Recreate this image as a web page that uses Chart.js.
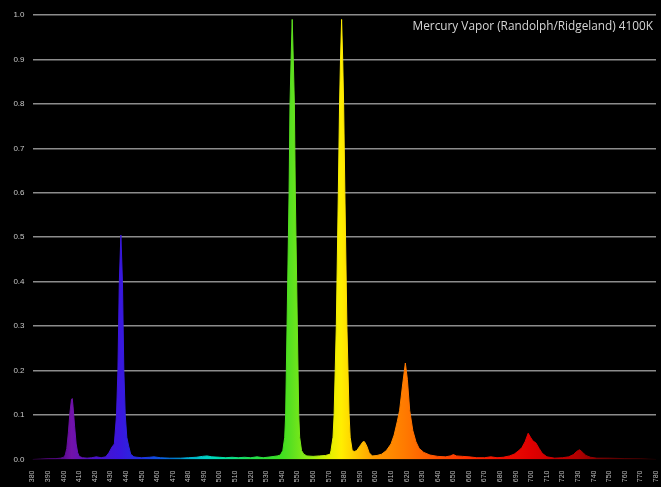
<!DOCTYPE html>
<html>
<head>
<meta charset="utf-8">
<script src="https://cdn.jsdelivr.net/npm/chart.js@4.4.0/dist/chart.umd.min.js"></script>
<style>
  html, body { margin: 0; padding: 0; background: #000; }
  #wrap { position: relative; width: 661px; height: 487px; background: #000; }
  #title { position: absolute; right: 8px; top: 17px; color: #d6d6d6;
           font-family: "Open Sans", "Liberation Sans", sans-serif; font-size: 11.8px; white-space: nowrap; }
</style>
</head>
<body>
<div id="wrap">
  <canvas id="c" width="661" height="487"></canvas>
  <div id="title">Mercury Vapor (Randolph/Ridgeland) 4100K</div>
</div>
<script>
// Wavelength (nm) samples
const wavelengths = [
  380,385,390,395,398,400,401,402,403,404,405,405.5,406,407,408,409,410,412,415,418,421,424,427,429,431,432.5,433.9,434.8,435.7,436.7,437.7,438.6,439.5,440.5,441.7,443,445,447,450,455,458,462,468,475,480,485,489,492,495,500,504,508,512,516,520,524,528,533,537,
  539,540.6,541.8,542.4,543.3,544.6,545.2,545.9,546.6,547.3,548.0,548.6,549.9,550.8,551.4,552.6,554,556,560,564,568,571,
  571.5,572.8,573.5,574.9,576.2,577.0,577.6,578.3,579.0,579.6,580.4,581.7,583.1,583.8,585.1,586.5,
  588,590,592,593,594.5,596,598,601,604,607,610,612,614,615.5,617.5,619.2,620.5,622,624,626,628,631,635,640,645,648,650,652,656,660,665,670,674,678,682,686,689,692,694,696,698,699.5,701,703,705,707,710,715,720,724,727,729,731,733,735,738,742,750,760,770,775,780
];
// Relative spectral intensity at each wavelength
const intensity = [
  0.000,0.001,0.002,0.002,0.003,0.005,0.010,0.025,0.060,0.105,0.135,0.137,0.120,0.075,0.035,0.015,0.007,0.004,0.003,0.004,0.006,0.004,0.006,0.015,0.028,0.035,0.100,0.200,0.400,0.505,0.400,0.200,0.100,0.050,0.030,0.012,0.006,0.005,0.004,0.005,0.006,0.004,0.003,0.003,0.004,0.005,0.007,0.008,0.006,0.005,0.004,0.005,0.004,0.005,0.004,0.006,0.004,0.006,0.008,
  0.010,0.020,0.050,0.100,0.300,0.600,0.800,0.900,0.990,0.900,0.800,0.600,0.300,0.100,0.050,0.020,0.012,0.008,0.007,0.008,0.009,0.012,
  0.020,0.050,0.100,0.300,0.600,0.800,0.900,0.990,0.900,0.800,0.600,0.300,0.100,0.050,0.020,0.018,
  0.020,0.030,0.040,0.040,0.030,0.015,0.008,0.009,0.012,0.020,0.035,0.055,0.085,0.110,0.170,0.217,0.180,0.110,0.065,0.040,0.025,0.016,0.010,0.007,0.006,0.008,0.011,0.008,0.007,0.006,0.004,0.004,0.006,0.004,0.005,0.008,0.012,0.020,0.027,0.040,0.059,0.050,0.042,0.037,0.025,0.014,0.006,0.003,0.004,0.006,0.011,0.018,0.022,0.016,0.009,0.005,0.003,0.003,0.002,0.002,0.001,0.000
];
// Tick values
const yTicks = [0.0,0.1,0.2,0.3,0.4,0.5,0.6,0.7,0.8,0.9,1.0];
const xTickStep = 10;
const xMin = 380, xMax = 780;

// Spectrum colour stops (wavelength -> colour)
const stopWl  = [380,400,405,420,436,450,460,470,480,490,500,510,520,540,546,560,570,578,590,600,619,640,660,680,700,730,750,780];
const stopCol = ['#3a0050','#5a0a90','#7212aa','#4a12c8','#3a16de','#2030e0','#1050e0','#0080e0','#00b0d0','#00d0c8','#00e0b0','#10e080','#20e050','#40e020','#5ae020','#a0f010','#e0f000','#ffee00','#ffc000','#ff9a00','#ff7a00','#ff5000','#ff3000','#f01000','#e00000','#b00000','#700000','#200000'];

const points = wavelengths.map((w, i) => ({ x: w, y: intensity[i] }));

function spectrumGradient(context) {
  const chart = context.chart;
  const area = chart.chartArea;
  if (!area) return '#888';
  const xs = chart.scales.x;
  const x0 = xs.getPixelForValue(xMin), x1 = xs.getPixelForValue(xMax);
  const g = chart.ctx.createLinearGradient(x0, 0, x1, 0);
  stopWl.forEach((w, i) => g.addColorStop((w - xMin) / (xMax - xMin), stopCol[i]));
  return g;
}

new Chart(document.getElementById('c'), {
  type: 'line',
  data: {
    datasets: [{
      data: points,
      fill: 'origin',
      backgroundColor: spectrumGradient,
      borderColor: spectrumGradient,
      borderWidth: 1,
      pointRadius: 0,
      tension: 0
    }]
  },
  options: {
    responsive: false,
    animation: false,
    layout: { padding: { top: 15, right: 5, left: 0, bottom: 0 } },
    plugins: { legend: { display: false }, tooltip: { enabled: false } },
    scales: {
      x: {
        type: 'linear', min: xMin, max: xMax,
        grid: { display: false },
        border: { display: false },
        afterBuildTicks: (scale) => {
          const t = [];
          for (let v = xMin; v <= xMax; v += xTickStep) t.push({ value: v });
          scale.ticks = t;
        },
        ticks: {
          autoSkip: false, minRotation: 90, maxRotation: 90, padding: 3,
          color: '#bdbdbd', font: { family: 'Liberation Sans', size: 7 },
          callback: (v) => String(v)
        },
        afterFit: (s) => { s.height = 27.5; s.paddingLeft = 0; s.paddingRight = 0; }
      },
      y: {
        min: 0, max: 1,
        afterBuildTicks: (scale) => { scale.ticks = yTicks.map(v => ({ value: v })); },
        grid: {
          color: (ctx) => (ctx.tick && ctx.tick.value === 0) ? 'rgba(0,0,0,0)' : '#8c8c8c',
          lineWidth: 1.6, drawTicks: false
        },
        border: { display: false },
        ticks: {
          padding: 8, color: '#c8c8c8', font: { family: 'Liberation Sans', size: 8 },
          callback: (v) => Number(v).toFixed(1)
        },
        afterFit: (s) => { s.width = 32.5; }
      }
    }
  }
});
</script>
</body>
</html>
